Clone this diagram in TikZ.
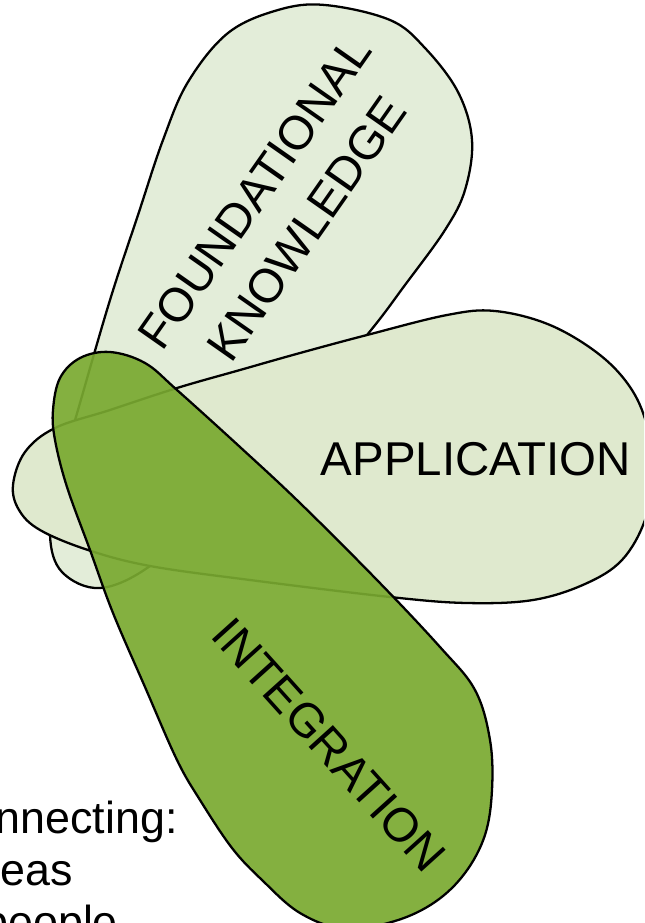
\documentclass[tikz,border=0pt]{standalone}
\usepackage{fontspec}
\setmainfont{Liberation Sans}
\usepackage{tikz}
\usepackage{xcolor}
\definecolor{foundfill}{HTML}{E3EDD9}
\definecolor{applfill}{HTML}{DFE9CE}
\definecolor{integfill}{RGB}{121,169,48}

\begin{document}
\begin{tikzpicture}[x=0.2mm,y=-0.2mm,
		petal/.style={draw=black,line width=1.3pt,line join=round},
		word/.style={inner sep=0pt,font=\fontsize{27}{32}\selectfont},
		note/.style={inner sep=0pt,anchor=base west,font=\fontsize{25.5}{30}\selectfont},
		]
		\clip (0,0) rectangle (644,923);
		\draw[petal,fill=foundfill] plot[smooth cycle,tension=0.6] coordinates {
			(325,5) (390,20) (425,48) (458,92) (472,140) (465,190) (445,230)
			(405,285) (367,335) (290,425) (210,510) (150,566) (100,588)
			(62,572) (50,535) (58,480) (78,410) (110,300) (138,215) (163,140)
			(188,82) (228,33) (278,10)
		};
		\draw[petal,fill=applfill] plot[smooth cycle,tension=0.6] coordinates {
			(13,485) (25,452) (55,428) (110,410) (177,388) (240,370) (300,353)
			(367,335) (447,315) (495,311) (550,325) (600,355) (632,390)
			(648,430) (652,475) (645,520) (622,560) (585,584) (533,600)
			(467,603) (390,597) (250,580) (150,566) (88,550) (40,530) (19,510)
		};
		\draw[petal,fill=integfill,fill opacity=0.92] plot[smooth cycle,tension=0.6] coordinates {
			(53,410) (60,378) (80,358) (110,352) (145,363) (177,390) (240,447)
			(300,503) (377,580) (440,647) (475,690) (490,740) (492,790)
			(485,835) (465,873) (435,902) (395,921) (345,929) (300,913)
			(262,880) (232,848) (200,800) (177,760) (145,687) (113,613)
			(90,550) (67,487) (55,440)
		};
		\node[word,rotate=55,anchor=base] (found) at (268,202) {FOUNDATIONAL};
		\node[word,rotate=55,anchor=base] (know) at (320,238) {KNOWLEDGE};
		\node[word,anchor=base] (appl) at (476,475) {APPLICATION};
		\node[word,rotate=-48,anchor=base] (integ) at (317,756) {INTEGRATION};
		\node[note] (conn) at (-62,833) {Connecting:};
		\node[note] (ideas) at (-35,885) {ideas};
		\node[note] (people) at (-17,937) {people};
	\end{tikzpicture}
\end{document}
